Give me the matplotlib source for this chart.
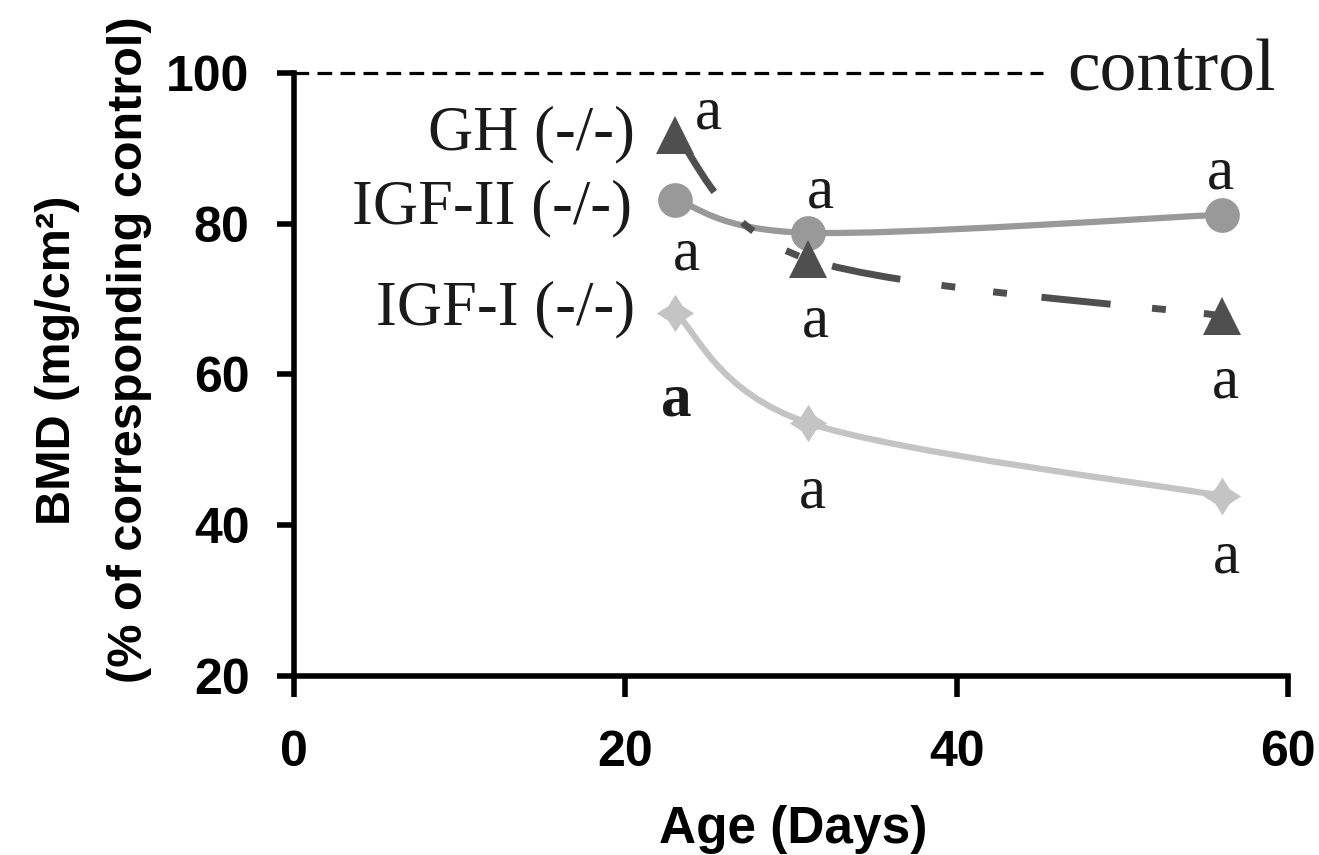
import numpy as np
import matplotlib
matplotlib.use("Agg")
import matplotlib.pyplot as plt
from matplotlib.path import Path
from matplotlib.patches import PathPatch

# ---- data ----
age = [23, 31, 56]
gh = [91.8, 75.3, 67.8]
igf2 = [83.2, 78.8, 81.2]
igf1 = [68.2, 53.6, 43.9]
control_level = 100
control_end = 45.2

series_names = ["GH (-/-)", "IGF-II (-/-)", "IGF-I (-/-)"]
label_x = [20.6, 20.4, 20.6]
label_y = [89.9, 80.1, 66.6]

# significance letters: (x, y, bold)
sig_x = [25.0, 31.8, 23.7, 31.5, 23.1, 31.3, 55.9, 56.2, 56.3]
sig_y = [92.7, 82.1, 73.9, 65.0, 54.6, 42.3, 84.7, 56.9, 33.7]
sig_bold = [False, False, False, False, True, False, False, False, False]

xticks = [0, 20, 40, 60]
yticks = [20, 40, 60, 80, 100]

SANS = "Liberation Sans"
SERIF = "Liberation Serif"

fig = plt.figure(figsize=(13.19, 8.55), dpi=100)
ax = fig.add_axes([294/1319, 1-676/855, (1288-294)/1319, (676-73)/855])
ax.set_xlim(0, 60)
ax.set_ylim(20, 100)


def smooth_path(x, y):
    pts = np.column_stack([x, y]).astype(float)
    n = len(pts)
    verts = [pts[0]]
    codes = [Path.MOVETO]
    for i in range(n - 1):
        p0 = pts[max(i - 1, 0)]
        p1 = pts[i]
        p2 = pts[i + 1]
        p3 = pts[min(i + 2, n - 1)]
        c1 = p1 + (p2 - p0) / 6.0
        c2 = p2 - (p3 - p1) / 6.0
        verts += [c1, c2, p2]
        codes += [Path.CURVE4] * 3
    return Path(verts, codes)


# star marker (4-point)
ang = np.deg2rad(np.arange(0, 360, 45))
rad = np.array([1, 0.55] * 4)
star_verts = np.column_stack([rad * np.cos(ang), rad * np.sin(ang)])
star_verts = np.vstack([star_verts, star_verts[:1]])
star_marker = Path(star_verts, [Path.MOVETO] + [Path.LINETO] * 7 + [Path.CLOSEPOLY])

c_gh = "#4f4f4f"
c_igf2 = "#999999"
c_igf1 = "#c4c4c4"

# control line
ax.plot([0, control_end], [control_level, control_level], color="black", lw=2.3,
        linestyle=(0, (4.6, 2.6)), dash_capstyle="butt", clip_on=False, zorder=3)

# IGF-I
ax.add_patch(PathPatch(smooth_path(age, igf1), fill=False, edgecolor=c_igf1, lw=4.5,
                       capstyle="round", zorder=4))
ax.plot(age, igf1, linestyle="none", marker=star_marker, ms=27, color=c_igf1,
        markeredgewidth=0, zorder=5)
# IGF-II
ax.add_patch(PathPatch(smooth_path(age, igf2), fill=False, edgecolor=c_igf2, lw=4.5,
                       capstyle="round", zorder=6))
ax.plot(age, igf2, linestyle="none", marker="o", ms=25, color=c_igf2,
        markeredgewidth=0, zorder=7)
# GH
ax.add_patch(PathPatch(smooth_path(age, gh), fill=False, edgecolor=c_gh, lw=5,
                       linestyle=(0, (10, 6, 2, 5.5, 2, 5)), capstyle="butt", zorder=8))
ax.plot(age, gh, linestyle="none", marker="^", ms=28, color=c_gh,
        markeredgewidth=0, zorder=9, clip_on=False)

# series labels
for name, lx, ly in zip(series_names, label_x, label_y):
    ax.text(lx, ly, name, ha="right", va="baseline", family=SERIF, fontsize=45,
            color="#1a1a1a", zorder=10)
ax.text(46.7, 97.7, "control", ha="left", va="baseline", family=SERIF, fontsize=53,
        color="#1a1a1a", clip_on=False)

for sx, sy, b in zip(sig_x, sig_y, sig_bold):
    ax.text(sx, sy, "a", ha="center", va="baseline", family=SERIF, fontsize=44,
            fontweight="bold" if b else "normal", color="#1a1a1a", zorder=10)

# axes styling
for s in ["top", "right"]:
    ax.spines[s].set_visible(False)
for s in ["left", "bottom"]:
    ax.spines[s].set_linewidth(4)
    ax.spines[s].set_capstyle("projecting")
ax.set_xticks(xticks)
ax.set_yticks(yticks)
ax.tick_params(axis="y", direction="out", length=12, width=4, pad=20)
ax.tick_params(axis="x", direction="out", length=15, width=4, pad=24)
for lab in ax.get_xticklabels() + ax.get_yticklabels():
    lab.set_family(SANS)
    lab.set_fontweight("bold")
    lab.set_fontsize(36)

fig.text(793/1319, 1-843/855, "Age (Days)", ha="center", va="baseline", family=SANS,
         fontweight="bold", fontsize=37)
fig.text(70/1319, 1-360/855, "BMD (mg/cm²)", rotation=90, rotation_mode="anchor",
         ha="center", va="baseline", family=SANS, fontweight="bold", fontsize=35)
fig.text(142/1319, 1-350/855, "(% of corresponding control)", rotation=90,
         rotation_mode="anchor", ha="center", va="baseline", family=SANS,
         fontweight="bold", fontsize=35)

fig.savefig("out.png", dpi=100)
